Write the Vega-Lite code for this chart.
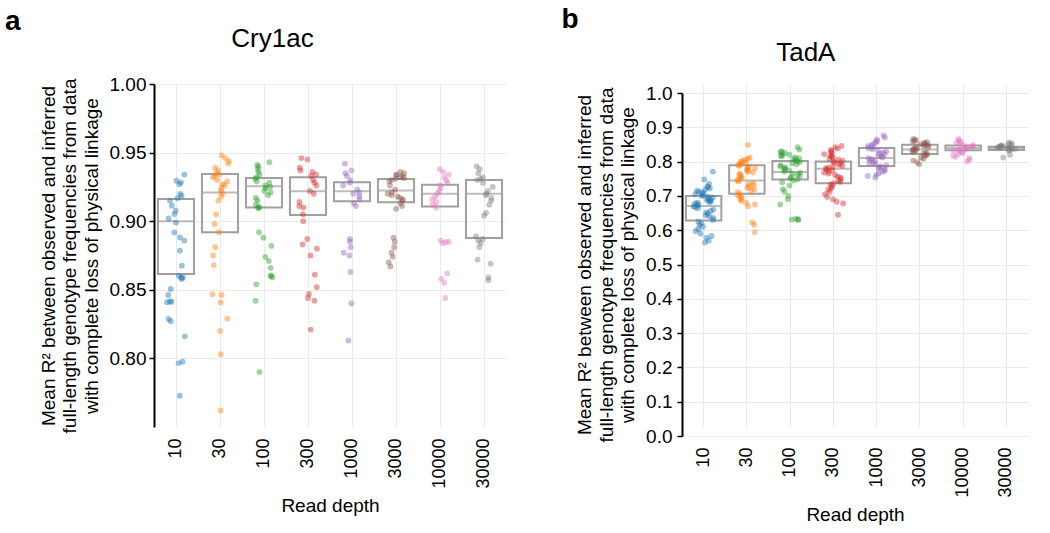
{
  "$schema": "https://vega.github.io/schema/vega-lite/v6.json",
  "padding": {"left": 5, "top": 6, "right": 5, "bottom": 5},
  "config": {
    "font": "Liberation Sans",
    "view": {"stroke": null},
    "axis": {
      "labelFont": "Liberation Sans", "titleFont": "Liberation Sans",
      "labelFontSize": 18, "titleFontSize": 19, "titleFontWeight": "normal",
      "labelColor": "#000000", "titleColor": "#000000",
      "gridColor": "#ebebeb", "gridWidth": 1, "labelOverlap": false
    },
    "title": {"font": "Liberation Sans", "fontWeight": "normal", "color": "#000000"}
  },
  "spacing": 55,
  "datasets": {
    "pa": [
      {"depth":"10","r2":0.934},{"depth":"10","r2":0.9295},{"depth":"10","r2":0.9283},{"depth":"10","r2":0.927},{"depth":"10","r2":0.9198},{"depth":"10","r2":0.9186},{"depth":"10","r2":0.9167},{"depth":"10","r2":0.915},{"depth":"10","r2":0.9113},{"depth":"10","r2":0.9077},{"depth":"10","r2":0.9052},{"depth":"10","r2":0.902},{"depth":"10","r2":0.899},{"depth":"10","r2":0.8919},{"depth":"10","r2":0.8882},{"depth":"10","r2":0.8858},{"depth":"10","r2":0.8785},{"depth":"10","r2":0.8676},{"depth":"10","r2":0.8603},{"depth":"10","r2":0.8591},{"depth":"10","r2":0.8588},{"depth":"10","r2":0.8579},{"depth":"10","r2":0.8506},{"depth":"10","r2":0.8462},{"depth":"10","r2":0.8415},{"depth":"10","r2":0.8413},{"depth":"10","r2":0.841},{"depth":"10","r2":0.8287},{"depth":"10","r2":0.8271},{"depth":"10","r2":0.8161},{"depth":"10","r2":0.7976},{"depth":"10","r2":0.7966},{"depth":"10","r2":0.7728},
      {"depth":"30","r2":0.948},{"depth":"30","r2":0.946},{"depth":"30","r2":0.944},{"depth":"30","r2":0.942},{"depth":"30","r2":0.939},{"depth":"30","r2":0.937},{"depth":"30","r2":0.935},{"depth":"30","r2":0.934},{"depth":"30","r2":0.933},{"depth":"30","r2":0.932},{"depth":"30","r2":0.93},{"depth":"30","r2":0.929},{"depth":"30","r2":0.927},{"depth":"30","r2":0.926},{"depth":"30","r2":0.924},{"depth":"30","r2":0.922},{"depth":"30","r2":0.92},{"depth":"30","r2":0.918},{"depth":"30","r2":0.915},{"depth":"30","r2":0.905},{"depth":"30","r2":0.898},{"depth":"30","r2":0.892},{"depth":"30","r2":0.881},{"depth":"30","r2":0.875},{"depth":"30","r2":0.868},{"depth":"30","r2":0.8468},{"depth":"30","r2":0.8462},{"depth":"30","r2":0.8408},{"depth":"30","r2":0.829},{"depth":"30","r2":0.82},{"depth":"30","r2":0.803},{"depth":"30","r2":0.762},
      {"depth":"100","r2":0.943},{"depth":"100","r2":0.941},{"depth":"100","r2":0.94},{"depth":"100","r2":0.938},{"depth":"100","r2":0.936},{"depth":"100","r2":0.934},{"depth":"100","r2":0.932},{"depth":"100","r2":0.931},{"depth":"100","r2":0.929},{"depth":"100","r2":0.928},{"depth":"100","r2":0.926},{"depth":"100","r2":0.925},{"depth":"100","r2":0.924},{"depth":"100","r2":0.922},{"depth":"100","r2":0.921},{"depth":"100","r2":0.919},{"depth":"100","r2":0.917},{"depth":"100","r2":0.915},{"depth":"100","r2":0.912},{"depth":"100","r2":0.9105},{"depth":"100","r2":0.91},{"depth":"100","r2":0.9095},{"depth":"100","r2":0.892},{"depth":"100","r2":0.888},{"depth":"100","r2":0.882},{"depth":"100","r2":0.874},{"depth":"100","r2":0.871},{"depth":"100","r2":0.866},{"depth":"100","r2":0.8605},{"depth":"100","r2":0.86},{"depth":"100","r2":0.859},{"depth":"100","r2":0.854},{"depth":"100","r2":0.842},{"depth":"100","r2":0.79},
      {"depth":"300","r2":0.946},{"depth":"300","r2":0.945},{"depth":"300","r2":0.939},{"depth":"300","r2":0.937},{"depth":"300","r2":0.936},{"depth":"300","r2":0.934},{"depth":"300","r2":0.933},{"depth":"300","r2":0.93},{"depth":"300","r2":0.928},{"depth":"300","r2":0.926},{"depth":"300","r2":0.922},{"depth":"300","r2":0.92},{"depth":"300","r2":0.914},{"depth":"300","r2":0.911},{"depth":"300","r2":0.91},{"depth":"300","r2":0.905},{"depth":"300","r2":0.9},{"depth":"300","r2":0.887},{"depth":"300","r2":0.883},{"depth":"300","r2":0.88},{"depth":"300","r2":0.875},{"depth":"300","r2":0.861},{"depth":"300","r2":0.852},{"depth":"300","r2":0.847},{"depth":"300","r2":0.844},{"depth":"300","r2":0.842},{"depth":"300","r2":0.821},
      {"depth":"1000","r2":0.942},{"depth":"1000","r2":0.937},{"depth":"1000","r2":0.935},{"depth":"1000","r2":0.933},{"depth":"1000","r2":0.93},{"depth":"1000","r2":0.928},{"depth":"1000","r2":0.926},{"depth":"1000","r2":0.923},{"depth":"1000","r2":0.921},{"depth":"1000","r2":0.92},{"depth":"1000","r2":0.918},{"depth":"1000","r2":0.916},{"depth":"1000","r2":0.913},{"depth":"1000","r2":0.911},{"depth":"1000","r2":0.887},{"depth":"1000","r2":0.885},{"depth":"1000","r2":0.881},{"depth":"1000","r2":0.877},{"depth":"1000","r2":0.875},{"depth":"1000","r2":0.863},{"depth":"1000","r2":0.84},{"depth":"1000","r2":0.813},
      {"depth":"3000","r2":0.936},{"depth":"3000","r2":0.935},{"depth":"3000","r2":0.934},{"depth":"3000","r2":0.9335},{"depth":"3000","r2":0.933},{"depth":"3000","r2":0.932},{"depth":"3000","r2":0.9315},{"depth":"3000","r2":0.931},{"depth":"3000","r2":0.93},{"depth":"3000","r2":0.929},{"depth":"3000","r2":0.926},{"depth":"3000","r2":0.923},{"depth":"3000","r2":0.921},{"depth":"3000","r2":0.92},{"depth":"3000","r2":0.919},{"depth":"3000","r2":0.918},{"depth":"3000","r2":0.917},{"depth":"3000","r2":0.916},{"depth":"3000","r2":0.915},{"depth":"3000","r2":0.913},{"depth":"3000","r2":0.911},{"depth":"3000","r2":0.909},{"depth":"3000","r2":0.888},{"depth":"3000","r2":0.885},{"depth":"3000","r2":0.881},{"depth":"3000","r2":0.877},{"depth":"3000","r2":0.874},{"depth":"3000","r2":0.87},{"depth":"3000","r2":0.867},
      {"depth":"10000","r2":0.938},{"depth":"10000","r2":0.936},{"depth":"10000","r2":0.934},{"depth":"10000","r2":0.932},{"depth":"10000","r2":0.93},{"depth":"10000","r2":0.928},{"depth":"10000","r2":0.926},{"depth":"10000","r2":0.924},{"depth":"10000","r2":0.922},{"depth":"10000","r2":0.92},{"depth":"10000","r2":0.918},{"depth":"10000","r2":0.916},{"depth":"10000","r2":0.914},{"depth":"10000","r2":0.912},{"depth":"10000","r2":0.91},{"depth":"10000","r2":0.886},{"depth":"10000","r2":0.885},{"depth":"10000","r2":0.8848},{"depth":"10000","r2":0.884},{"depth":"10000","r2":0.862},{"depth":"10000","r2":0.858},{"depth":"10000","r2":0.855},{"depth":"10000","r2":0.844},
      {"depth":"30000","r2":0.94},{"depth":"30000","r2":0.938},{"depth":"30000","r2":0.935},{"depth":"30000","r2":0.932},{"depth":"30000","r2":0.931},{"depth":"30000","r2":0.93},{"depth":"30000","r2":0.928},{"depth":"30000","r2":0.925},{"depth":"30000","r2":0.922},{"depth":"30000","r2":0.92},{"depth":"30000","r2":0.919},{"depth":"30000","r2":0.917},{"depth":"30000","r2":0.915},{"depth":"30000","r2":0.912},{"depth":"30000","r2":0.906},{"depth":"30000","r2":0.904},{"depth":"30000","r2":0.889},{"depth":"30000","r2":0.887},{"depth":"30000","r2":0.886},{"depth":"30000","r2":0.884},{"depth":"30000","r2":0.881},{"depth":"30000","r2":0.872},{"depth":"30000","r2":0.869},{"depth":"30000","r2":0.859},{"depth":"30000","r2":0.857}
    ],
    "ba": [
      {"depth":"10","q1":0.8615,"med":0.9,"q3":0.9162},
      {"depth":"30","q1":0.892,"med":0.921,"q3":0.9344},
      {"depth":"100","q1":0.91,"med":0.9254,"q3":0.9315},
      {"depth":"300","q1":0.9045,"med":0.9218,"q3":0.932},
      {"depth":"1000","q1":0.9145,"med":0.9218,"q3":0.9283},
      {"depth":"3000","q1":0.9138,"med":0.9223,"q3":0.9308},
      {"depth":"10000","q1":0.9108,"med":0.92,"q3":0.9266},
      {"depth":"30000","q1":0.8878,"med":0.92,"q3":0.93}
    ],
    "pb": [
      {"depth":"10","r2":0.771},{"depth":"10","r2":0.748},{"depth":"10","r2":0.735},{"depth":"10","r2":0.728},{"depth":"10","r2":0.725},{"depth":"10","r2":0.722},{"depth":"10","r2":0.718},{"depth":"10","r2":0.715},{"depth":"10","r2":0.712},{"depth":"10","r2":0.71},{"depth":"10","r2":0.708},{"depth":"10","r2":0.705},{"depth":"10","r2":0.702},{"depth":"10","r2":0.7},{"depth":"10","r2":0.698},{"depth":"10","r2":0.695},{"depth":"10","r2":0.692},{"depth":"10","r2":0.69},{"depth":"10","r2":0.688},{"depth":"10","r2":0.686},{"depth":"10","r2":0.684},{"depth":"10","r2":0.682},{"depth":"10","r2":0.68},{"depth":"10","r2":0.678},{"depth":"10","r2":0.675},{"depth":"10","r2":0.672},{"depth":"10","r2":0.67},{"depth":"10","r2":0.667},{"depth":"10","r2":0.664},{"depth":"10","r2":0.66},{"depth":"10","r2":0.656},{"depth":"10","r2":0.652},{"depth":"10","r2":0.648},{"depth":"10","r2":0.644},{"depth":"10","r2":0.64},{"depth":"10","r2":0.636},{"depth":"10","r2":0.63},{"depth":"10","r2":0.625},{"depth":"10","r2":0.62},{"depth":"10","r2":0.615},{"depth":"10","r2":0.61},{"depth":"10","r2":0.603},{"depth":"10","r2":0.597},{"depth":"10","r2":0.59},{"depth":"10","r2":0.583},{"depth":"10","r2":0.578},{"depth":"10","r2":0.57},{"depth":"10","r2":0.564},
      {"depth":"30","r2":0.849},{"depth":"30","r2":0.812},{"depth":"30","r2":0.808},{"depth":"30","r2":0.805},{"depth":"30","r2":0.802},{"depth":"30","r2":0.8},{"depth":"30","r2":0.798},{"depth":"30","r2":0.795},{"depth":"30","r2":0.793},{"depth":"30","r2":0.79},{"depth":"30","r2":0.788},{"depth":"30","r2":0.785},{"depth":"30","r2":0.782},{"depth":"30","r2":0.78},{"depth":"30","r2":0.777},{"depth":"30","r2":0.774},{"depth":"30","r2":0.771},{"depth":"30","r2":0.768},{"depth":"30","r2":0.765},{"depth":"30","r2":0.762},{"depth":"30","r2":0.758},{"depth":"30","r2":0.755},{"depth":"30","r2":0.752},{"depth":"30","r2":0.748},{"depth":"30","r2":0.745},{"depth":"30","r2":0.742},{"depth":"30","r2":0.738},{"depth":"30","r2":0.735},{"depth":"30","r2":0.731},{"depth":"30","r2":0.727},{"depth":"30","r2":0.723},{"depth":"30","r2":0.719},{"depth":"30","r2":0.715},{"depth":"30","r2":0.711},{"depth":"30","r2":0.706},{"depth":"30","r2":0.702},{"depth":"30","r2":0.698},{"depth":"30","r2":0.694},{"depth":"30","r2":0.69},{"depth":"30","r2":0.685},{"depth":"30","r2":0.68},{"depth":"30","r2":0.675},{"depth":"30","r2":0.67},{"depth":"30","r2":0.623},{"depth":"30","r2":0.616},{"depth":"30","r2":0.594},
      {"depth":"100","r2":0.842},{"depth":"100","r2":0.835},{"depth":"100","r2":0.83},{"depth":"100","r2":0.828},{"depth":"100","r2":0.825},{"depth":"100","r2":0.822},{"depth":"100","r2":0.82},{"depth":"100","r2":0.818},{"depth":"100","r2":0.815},{"depth":"100","r2":0.812},{"depth":"100","r2":0.81},{"depth":"100","r2":0.807},{"depth":"100","r2":0.804},{"depth":"100","r2":0.801},{"depth":"100","r2":0.798},{"depth":"100","r2":0.795},{"depth":"100","r2":0.792},{"depth":"100","r2":0.789},{"depth":"100","r2":0.786},{"depth":"100","r2":0.783},{"depth":"100","r2":0.78},{"depth":"100","r2":0.777},{"depth":"100","r2":0.774},{"depth":"100","r2":0.771},{"depth":"100","r2":0.768},{"depth":"100","r2":0.765},{"depth":"100","r2":0.762},{"depth":"100","r2":0.758},{"depth":"100","r2":0.755},{"depth":"100","r2":0.752},{"depth":"100","r2":0.748},{"depth":"100","r2":0.745},{"depth":"100","r2":0.74},{"depth":"100","r2":0.73},{"depth":"100","r2":0.72},{"depth":"100","r2":0.712},{"depth":"100","r2":0.7},{"depth":"100","r2":0.69},{"depth":"100","r2":0.675},{"depth":"100","r2":0.633},{"depth":"100","r2":0.632},{"depth":"100","r2":0.631},{"depth":"100","r2":0.63},
      {"depth":"300","r2":0.846},{"depth":"300","r2":0.842},{"depth":"300","r2":0.838},{"depth":"300","r2":0.834},{"depth":"300","r2":0.83},{"depth":"300","r2":0.826},{"depth":"300","r2":0.822},{"depth":"300","r2":0.818},{"depth":"300","r2":0.815},{"depth":"300","r2":0.812},{"depth":"300","r2":0.809},{"depth":"300","r2":0.806},{"depth":"300","r2":0.803},{"depth":"300","r2":0.8},{"depth":"300","r2":0.797},{"depth":"300","r2":0.794},{"depth":"300","r2":0.791},{"depth":"300","r2":0.788},{"depth":"300","r2":0.785},{"depth":"300","r2":0.782},{"depth":"300","r2":0.78},{"depth":"300","r2":0.777},{"depth":"300","r2":0.774},{"depth":"300","r2":0.771},{"depth":"300","r2":0.768},{"depth":"300","r2":0.765},{"depth":"300","r2":0.761},{"depth":"300","r2":0.757},{"depth":"300","r2":0.753},{"depth":"300","r2":0.749},{"depth":"300","r2":0.745},{"depth":"300","r2":0.741},{"depth":"300","r2":0.737},{"depth":"300","r2":0.733},{"depth":"300","r2":0.728},{"depth":"300","r2":0.723},{"depth":"300","r2":0.718},{"depth":"300","r2":0.712},{"depth":"300","r2":0.705},{"depth":"300","r2":0.697},{"depth":"300","r2":0.69},{"depth":"300","r2":0.683},{"depth":"300","r2":0.678},{"depth":"300","r2":0.645},
      {"depth":"1000","r2":0.876},{"depth":"1000","r2":0.87},{"depth":"1000","r2":0.865},{"depth":"1000","r2":0.86},{"depth":"1000","r2":0.856},{"depth":"1000","r2":0.852},{"depth":"1000","r2":0.848},{"depth":"1000","r2":0.845},{"depth":"1000","r2":0.842},{"depth":"1000","r2":0.839},{"depth":"1000","r2":0.836},{"depth":"1000","r2":0.833},{"depth":"1000","r2":0.83},{"depth":"1000","r2":0.827},{"depth":"1000","r2":0.824},{"depth":"1000","r2":0.821},{"depth":"1000","r2":0.818},{"depth":"1000","r2":0.815},{"depth":"1000","r2":0.812},{"depth":"1000","r2":0.81},{"depth":"1000","r2":0.807},{"depth":"1000","r2":0.804},{"depth":"1000","r2":0.801},{"depth":"1000","r2":0.798},{"depth":"1000","r2":0.795},{"depth":"1000","r2":0.792},{"depth":"1000","r2":0.789},{"depth":"1000","r2":0.786},{"depth":"1000","r2":0.783},{"depth":"1000","r2":0.78},{"depth":"1000","r2":0.777},{"depth":"1000","r2":0.774},{"depth":"1000","r2":0.77},{"depth":"1000","r2":0.766},{"depth":"1000","r2":0.762},{"depth":"1000","r2":0.758},{"depth":"1000","r2":0.754},
      {"depth":"3000","r2":0.866},{"depth":"3000","r2":0.863},{"depth":"3000","r2":0.861},{"depth":"3000","r2":0.859},{"depth":"3000","r2":0.857},{"depth":"3000","r2":0.855},{"depth":"3000","r2":0.853},{"depth":"3000","r2":0.851},{"depth":"3000","r2":0.849},{"depth":"3000","r2":0.847},{"depth":"3000","r2":0.845},{"depth":"3000","r2":0.843},{"depth":"3000","r2":0.841},{"depth":"3000","r2":0.839},{"depth":"3000","r2":0.837},{"depth":"3000","r2":0.835},{"depth":"3000","r2":0.833},{"depth":"3000","r2":0.831},{"depth":"3000","r2":0.829},{"depth":"3000","r2":0.827},{"depth":"3000","r2":0.825},{"depth":"3000","r2":0.822},{"depth":"3000","r2":0.819},{"depth":"3000","r2":0.816},{"depth":"3000","r2":0.812},{"depth":"3000","r2":0.808},{"depth":"3000","r2":0.803},{"depth":"3000","r2":0.798},{"depth":"3000","r2":0.792},
      {"depth":"10000","r2":0.866},{"depth":"10000","r2":0.862},{"depth":"10000","r2":0.858},{"depth":"10000","r2":0.855},{"depth":"10000","r2":0.852},{"depth":"10000","r2":0.849},{"depth":"10000","r2":0.847},{"depth":"10000","r2":0.845},{"depth":"10000","r2":0.843},{"depth":"10000","r2":0.841},{"depth":"10000","r2":0.839},{"depth":"10000","r2":0.837},{"depth":"10000","r2":0.835},{"depth":"10000","r2":0.833},{"depth":"10000","r2":0.831},{"depth":"10000","r2":0.828},{"depth":"10000","r2":0.825},{"depth":"10000","r2":0.822},{"depth":"10000","r2":0.818},{"depth":"10000","r2":0.814},{"depth":"10000","r2":0.81},{"depth":"10000","r2":0.805},{"depth":"10000","r2":0.8},
      {"depth":"30000","r2":0.856},{"depth":"30000","r2":0.853},{"depth":"30000","r2":0.851},{"depth":"30000","r2":0.849},{"depth":"30000","r2":0.847},{"depth":"30000","r2":0.846},{"depth":"30000","r2":0.845},{"depth":"30000","r2":0.844},{"depth":"30000","r2":0.843},{"depth":"30000","r2":0.842},{"depth":"30000","r2":0.841},{"depth":"30000","r2":0.84},{"depth":"30000","r2":0.839},{"depth":"30000","r2":0.838},{"depth":"30000","r2":0.837},{"depth":"30000","r2":0.836},{"depth":"30000","r2":0.834},{"depth":"30000","r2":0.832},{"depth":"30000","r2":0.82},{"depth":"30000","r2":0.812}
    ],
    "bb": [
      {"depth":"10","q1":0.628,"med":0.6706,"q3":0.6997},
      {"depth":"30","q1":0.7064,"med":0.745,"q3":0.789},
      {"depth":"100","q1":0.748,"med":0.7697,"q3":0.802},
      {"depth":"300","q1":0.737,"med":0.7793,"q3":0.8},
      {"depth":"1000","q1":0.787,"med":0.8105,"q3":0.8397},
      {"depth":"3000","q1":0.822,"med":0.8356,"q3":0.849},
      {"depth":"10000","q1":0.833,"med":0.84,"q3":0.847},
      {"depth":"30000","q1":0.834,"med":0.84,"q3":0.843}
    ]
  },
  "hconcat": [
    {
      "title": {"text": "a", "anchor": "start", "fontSize": 28, "fontWeight": "bold", "dx": -34, "offset": -10},
      "vconcat": [
        {
          "title": {"text": "Cry1ac", "fontSize": 26, "anchor": "middle", "frame": "bounds", "offset": 23},
          "width": 352,
          "height": 343,
          "resolve": {"scale": {"xOffset": "independent"}},
          "encoding": {
            "x": {"field": "depth", "type": "nominal",
              "scale": {"type": "band", "domain": ["10","30","100","300","1000","3000","10000","30000"], "paddingInner": 0, "paddingOuter": 0},
              "axis": {"title": "Read depth", "labelAngle": 270, "domain": false, "ticks": false, "grid": true, "bandPosition": 0.5, "labelPadding": 11, "titlePadding": 8}}
          },
          "layer": [
            {
              "data": {"name": "ba"},
              "mark": {"type": "bar", "width": {"band": 0.82}, "fillOpacity": 0, "stroke": "#a0a0a0", "strokeWidth": 2},
              "encoding": {
                "y": {"field": "q1", "type": "quantitative",
                  "scale": {"domain": [0.75, 1.0], "nice": false, "zero": false},
                  "axis": {"values": [0.8, 0.85, 0.9, 0.95, 1.0], "format": ".2f", "grid": true, "labelFontSize": 19, "domainColor": "#000000", "domainWidth": 2, "tickColor": "#000000", "tickSize": 5, "tickWidth": 1.5, "labelPadding": 3, "titlePadding": 8, "titleLineHeight": 21.5,
                    "title": ["Mean R² between observed and inferred", "full-length genotype frequencies from data", "with complete loss of physical linkage"]}},
                "y2": {"field": "q3"}
              }
            },
            {
              "data": {"name": "ba"},
              "mark": {"type": "tick", "size": 36, "thickness": 2, "color": "#a0a0a0"},
              "encoding": {"y": {"field": "med", "type": "quantitative",
                  "axis": {"values": [0.8, 0.85, 0.9, 0.95, 1.0], "format": ".2f", "grid": true, "labelFontSize": 19, "domainColor": "#000000", "domainWidth": 2, "tickColor": "#000000", "tickSize": 5, "tickWidth": 1.5, "labelPadding": 3, "titlePadding": 8, "titleLineHeight": 21.5,
                    "title": ["Mean R² between observed and inferred", "full-length genotype frequencies from data", "with complete loss of physical linkage"]}}}
            },
            {
              "data": {"name": "pa"},
              "transform": [
                {"window": [{"op": "row_number", "as": "idx"}]},
                {"calculate": "(sin(datum.idx * 12.9898) * 43758.5453) % 1", "as": "jit"}
              ],
              "mark": {"type": "circle", "size": 34, "opacity": 0.45},
              "encoding": {
                "y": {"field": "r2", "type": "quantitative",
                  "axis": {"values": [0.8, 0.85, 0.9, 0.95, 1.0], "format": ".2f", "grid": true, "labelFontSize": 19, "domainColor": "#000000", "domainWidth": 2, "tickColor": "#000000", "tickSize": 5, "tickWidth": 1.5, "labelPadding": 3, "titlePadding": 8, "titleLineHeight": 21.5,
                    "title": ["Mean R² between observed and inferred", "full-length genotype frequencies from data", "with complete loss of physical linkage"]}},
                "xOffset": {"field": "jit", "type": "quantitative", "scale": {"domain": [-1, 1], "range": [13, 31]}},
                "color": {"field": "depth", "type": "nominal", "legend": null,
                  "scale": {"domain": ["10","30","100","300","1000","3000","10000","30000"], "range": ["#1f77b4","#ff7f0e","#2ca02c","#d62728","#9467bd","#8c564b","#e377c2","#7f7f7f"]}}
              }
            }
          ]
        }
      ]
    },
    {
      "title": {"text": "b", "anchor": "start", "fontSize": 28, "fontWeight": "bold", "dx": -14, "offset": 6},
      "vconcat": [
        {
          "title": {"text": "TadA", "fontSize": 26, "anchor": "middle", "frame": "bounds", "offset": 20, "dx": 4, "dy": 2},
          "width": 346,
          "height": 352,
          "resolve": {"scale": {"xOffset": "independent"}},
          "encoding": {
            "x": {"field": "depth", "type": "nominal",
              "scale": {"type": "band", "domain": ["10","30","100","300","1000","3000","10000","30000"], "paddingInner": 0, "paddingOuter": 0},
              "axis": {"title": "Read depth", "labelAngle": 270, "domain": false, "ticks": false, "grid": true, "gridScale": "y", "bandPosition": 0.5, "labelPadding": 11, "titlePadding": 8}}
          },
          "layer": [
            {
              "data": {"name": "bb"},
              "mark": {"type": "bar", "width": {"band": 0.82}, "fillOpacity": 0, "stroke": "#a0a0a0", "strokeWidth": 2},
              "encoding": {
                "y": {"field": "q1", "type": "quantitative",
                  "scale": {"domain": [0, 1.0], "nice": false, "range": [352, 9]},
                  "axis": {"values": [0, 0.1, 0.2, 0.3, 0.4, 0.5, 0.6, 0.7, 0.8, 0.9, 1.0], "format": ".1f", "grid": true, "labelFontSize": 19, "domainColor": "#000000", "domainWidth": 2, "tickColor": "#000000", "tickSize": 5, "tickWidth": 1.5, "labelPadding": 5, "titlePadding": 8, "titleLineHeight": 21.5,
                    "title": ["Mean R² between observed and inferred", "full-length genotype frequencies from data", "with complete loss of physical linkage"]}},
                "y2": {"field": "q3"}
              }
            },
            {
              "data": {"name": "bb"},
              "mark": {"type": "tick", "size": 35, "thickness": 2, "color": "#a0a0a0"},
              "encoding": {"y": {"field": "med", "type": "quantitative",
                  "axis": {"values": [0, 0.1, 0.2, 0.3, 0.4, 0.5, 0.6, 0.7, 0.8, 0.9, 1.0], "format": ".1f", "grid": true, "labelFontSize": 19, "domainColor": "#000000", "domainWidth": 2, "tickColor": "#000000", "tickSize": 5, "tickWidth": 1.5, "labelPadding": 5, "titlePadding": 8, "titleLineHeight": 21.5,
                    "title": ["Mean R² between observed and inferred", "full-length genotype frequencies from data", "with complete loss of physical linkage"]}}}
            },
            {
              "data": {"name": "pb"},
              "transform": [
                {"window": [{"op": "row_number", "as": "idx"}]},
                {"calculate": "(sin(datum.idx * 12.9898) * 43758.5453) % 1", "as": "jit"}
              ],
              "mark": {"type": "circle", "size": 34, "opacity": 0.45},
              "encoding": {
                "y": {"field": "r2", "type": "quantitative",
                  "axis": {"values": [0, 0.1, 0.2, 0.3, 0.4, 0.5, 0.6, 0.7, 0.8, 0.9, 1.0], "format": ".1f", "grid": true, "labelFontSize": 19, "domainColor": "#000000", "domainWidth": 2, "tickColor": "#000000", "tickSize": 5, "tickWidth": 1.5, "labelPadding": 5, "titlePadding": 8, "titleLineHeight": 21.5,
                    "title": ["Mean R² between observed and inferred", "full-length genotype frequencies from data", "with complete loss of physical linkage"]}},
                "xOffset": {"field": "jit", "type": "quantitative", "scale": {"domain": [-1, 1], "range": [11.6, 31.6]}},
                "color": {"field": "depth", "type": "nominal", "legend": null,
                  "scale": {"domain": ["10","30","100","300","1000","3000","10000","30000"], "range": ["#1f77b4","#ff7f0e","#2ca02c","#d62728","#9467bd","#8c564b","#e377c2","#7f7f7f"]}}
              }
            }
          ]
        }
      ]
    }
  ],
  "resolve": {"scale": {"color": "independent"}}
}
